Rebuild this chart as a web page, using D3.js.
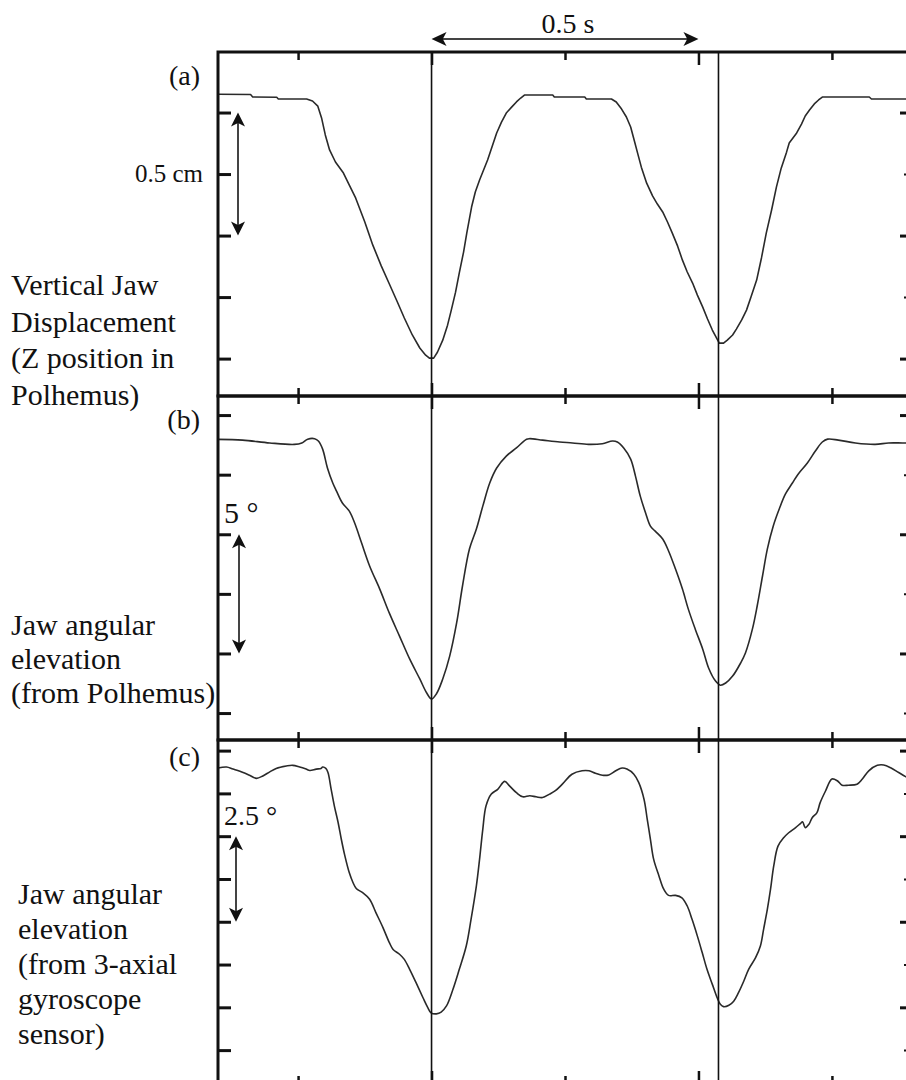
<!DOCTYPE html>
<html>
<head>
<meta charset="utf-8">
<script src="https://cdn.jsdelivr.net/npm/d3@7"></script>
<style>
  body { margin: 0; background: #fff; }
  svg { display: block; }
</style>
</head>
<body>
<svg width="906" height="1080"></svg>
<script>
// time axis (s)
var timeDomain = [0.1, 1.4];
var markerTimes = [0.5, 1.0375];      // the two minima marked with vertical lines
var majorTimeTicks = [0.5, 1.0];
var minorTimeTicks = [0.25, 0.75, 1.25];

// (a) vertical jaw displacement, cm
var timeA = [0.1, 0.161, 0.165, 0.210, 0.213, 0.266, 0.277, 0.287, 0.294, 0.301, 0.309, 0.320, 0.335, 0.346, 0.358, 0.375, 0.390, 0.406, 0.421, 0.436, 0.449, 0.464, 0.478, 0.489, 0.496, 0.504, 0.511, 0.521, 0.530, 0.537, 0.545, 0.552, 0.560, 0.566, 0.575, 0.582, 0.590, 0.605, 0.622, 0.631, 0.640, 0.650, 0.659, 0.667, 0.674, 0.727, 0.730, 0.787, 0.790, 0.837, 0.846, 0.856, 0.865, 0.873, 0.880, 0.886, 0.893, 0.903, 0.914, 0.923, 0.933, 0.942, 0.951, 0.961, 0.970, 0.979, 0.989, 0.998, 1.008, 1.017, 1.026, 1.034, 1.039, 1.047, 1.054, 1.064, 1.071, 1.081, 1.090, 1.099, 1.109, 1.118, 1.127, 1.137, 1.146, 1.155, 1.165, 1.170, 1.184, 1.193, 1.200, 1.208, 1.217, 1.225, 1.232, 1.320, 1.324, 1.4];
var dispA = [1.074, 1.073, 1.063, 1.062, 1.055, 1.055, 1.047, 1.026, 0.978, 0.909, 0.848, 0.799, 0.754, 0.705, 0.652, 0.555, 0.461, 0.376, 0.303, 0.230, 0.165, 0.096, 0.043, 0.014, 0.002, 0.002, 0.026, 0.075, 0.136, 0.197, 0.270, 0.348, 0.433, 0.510, 0.616, 0.677, 0.726, 0.807, 0.917, 0.961, 0.998, 1.022, 1.043, 1.059, 1.071, 1.071, 1.063, 1.063, 1.055, 1.055, 1.043, 1.014, 0.982, 0.941, 0.884, 0.835, 0.778, 0.713, 0.661, 0.628, 0.596, 0.555, 0.510, 0.457, 0.400, 0.352, 0.307, 0.258, 0.209, 0.161, 0.116, 0.083, 0.063, 0.063, 0.075, 0.096, 0.120, 0.157, 0.197, 0.254, 0.319, 0.409, 0.510, 0.604, 0.697, 0.774, 0.839, 0.876, 0.917, 0.953, 0.986, 1.010, 1.035, 1.051, 1.063, 1.063, 1.055, 1.055];
var domainA = [-0.152, 1.246];
var ticksA = [0, 0.25, 0.5, 0.75, 1.0];
var rightLongA = [0, 0.5, 1.0];
var rightShortA = [0.25, 0.75];
var barA = [0.5, 1.0];

// (b) jaw angular elevation from Polhemus, degrees
var timeB = [0.1, 0.146, 0.197, 0.243, 0.257, 0.268, 0.281, 0.288, 0.296, 0.305, 0.315, 0.322, 0.333, 0.346, 0.356, 0.369, 0.384, 0.403, 0.421, 0.440, 0.459, 0.478, 0.491, 0.500, 0.509, 0.521, 0.534, 0.547, 0.558, 0.571, 0.584, 0.596, 0.609, 0.622, 0.640, 0.659, 0.678, 0.684, 0.708, 0.740, 0.764, 0.794, 0.820, 0.839, 0.848, 0.860, 0.873, 0.882, 0.891, 0.901, 0.910, 0.919, 0.933, 0.944, 0.957, 0.970, 0.981, 0.994, 1.008, 1.019, 1.032, 1.041, 1.051, 1.064, 1.079, 1.088, 1.101, 1.110, 1.120, 1.129, 1.140, 1.152, 1.163, 1.176, 1.187, 1.204, 1.219, 1.232, 1.242, 1.262, 1.294, 1.331, 1.356, 1.382, 1.4];
var angleB = [11.48, 11.45, 11.33, 11.27, 11.33, 11.49, 11.51, 11.41, 11.07, 10.28, 9.65, 9.31, 8.81, 8.47, 7.97, 7.13, 6.17, 5.20, 4.19, 3.23, 2.27, 1.43, 0.84, 0.59, 0.80, 1.43, 2.39, 3.78, 5.33, 6.88, 7.72, 8.68, 9.65, 10.28, 10.78, 11.12, 11.49, 11.51, 11.45, 11.37, 11.33, 11.27, 11.30, 11.41, 11.37, 11.12, 10.65, 9.94, 9.10, 8.39, 7.84, 7.63, 7.30, 6.80, 6.04, 5.20, 4.36, 3.52, 2.68, 1.89, 1.34, 1.17, 1.26, 1.55, 2.10, 2.52, 3.52, 4.49, 5.75, 6.88, 7.84, 8.60, 9.19, 9.65, 10.03, 10.49, 10.99, 11.37, 11.49, 11.45, 11.33, 11.27, 11.33, 11.33, 11.33];
var domainB = [-1.13, 13.3];
var ticksB = [0, 2.5, 5, 7.5, 10, 12.5];
var rightLongB = [2.5, 7.5, 12.5];
var rightShortB = [0, 5, 10];
var barB = [2.5, 7.5];

// (c) jaw angular elevation from gyroscope, degrees
var timeC = [0.1, 0.116, 0.128, 0.147, 0.159, 0.172, 0.184, 0.197, 0.209, 0.228, 0.240, 0.253, 0.265, 0.272, 0.284, 0.293, 0.296, 0.302, 0.306, 0.312, 0.318, 0.325, 0.331, 0.337, 0.346, 0.353, 0.359, 0.371, 0.384, 0.396, 0.409, 0.421, 0.428, 0.440, 0.449, 0.459, 0.471, 0.484, 0.493, 0.499, 0.509, 0.518, 0.528, 0.540, 0.552, 0.565, 0.574, 0.584, 0.590, 0.596, 0.602, 0.612, 0.624, 0.637, 0.646, 0.659, 0.671, 0.684, 0.696, 0.708, 0.721, 0.732, 0.745, 0.763, 0.782, 0.795, 0.807, 0.820, 0.832, 0.845, 0.857, 0.866, 0.879, 0.888, 0.898, 0.904, 0.910, 0.916, 0.926, 0.935, 0.944, 0.957, 0.969, 0.979, 0.988, 0.998, 1.007, 1.016, 1.026, 1.035, 1.041, 1.047, 1.057, 1.066, 1.075, 1.085, 1.094, 1.107, 1.116, 1.122, 1.129, 1.135, 1.141, 1.149, 1.160, 1.169, 1.182, 1.191, 1.195, 1.200, 1.207, 1.213, 1.222, 1.228, 1.238, 1.250, 1.260, 1.269, 1.281, 1.297, 1.307, 1.319, 1.335, 1.347, 1.360, 1.375, 1.388, 1.4];
var angleC = [8.24, 8.27, 8.21, 8.11, 8.03, 7.94, 8.01, 8.13, 8.23, 8.30, 8.32, 8.27, 8.21, 8.17, 8.21, 8.23, 8.27, 8.23, 8.11, 7.62, 7.13, 6.65, 6.16, 5.72, 5.18, 4.89, 4.72, 4.60, 4.41, 4.01, 3.58, 3.14, 2.94, 2.80, 2.65, 2.36, 1.97, 1.53, 1.24, 1.09, 1.06, 1.11, 1.29, 1.77, 2.36, 3.04, 3.82, 4.80, 5.58, 6.45, 7.13, 7.48, 7.62, 7.85, 7.72, 7.52, 7.40, 7.43, 7.40, 7.38, 7.48, 7.58, 7.77, 8.06, 8.16, 8.16, 8.09, 8.03, 8.04, 8.16, 8.24, 8.21, 8.06, 7.82, 7.33, 6.75, 6.16, 5.58, 5.09, 4.70, 4.52, 4.52, 4.45, 4.21, 3.82, 3.33, 2.85, 2.36, 1.92, 1.53, 1.34, 1.27, 1.31, 1.43, 1.68, 2.02, 2.36, 2.70, 3.04, 3.53, 4.11, 4.70, 5.38, 5.96, 6.21, 6.35, 6.50, 6.62, 6.67, 6.50, 6.60, 6.79, 6.94, 7.23, 7.57, 7.92, 7.87, 7.74, 7.74, 7.77, 7.92, 8.16, 8.32, 8.33, 8.25, 8.11, 7.99, 7.89];
var domainC = [-0.99, 9.06];
var ticksC = [0, 1.25, 2.5, 3.75, 5, 6.25, 7.5, 8.75];
var rightLongC = [1.25, 3.75, 6.25, 8.75];
var rightShortC = [0, 2.5, 5, 7.5];
var barC = [3.75, 6.25];

var svg = d3.select("svg");
var serif = "Liberation Serif";

var margin = {top: 52, left: 218};
var plotWidth = 694;
var panelHeight = 344;

var timeScale = d3.scaleLinear()
    .domain(timeDomain)
    .range([margin.left, margin.left + plotWidth]);

var panels = [
    {id: "a", time: timeA, value: dispA, domain: domainA, ticks: ticksA, rightLong: rightLongA, rightShort: rightShortA,
     bar: barA, barX: 20, curve: d3.curveLinear,
     tag: "(a)", tagY: 33, barText: "0.5 cm",
     lines: ["Vertical Jaw", "Displacement", "(Z position in", "Polhemus)"], lineX: 11, lineY: 243, lineGap: 36.5},
    {id: "b", time: timeB, value: angleB, domain: domainB, ticks: ticksB, rightLong: rightLongB, rightShort: rightShortB,
     bar: barB, barX: 21, curve: d3.curveCatmullRom,
     tag: "(b)", tagY: 33, barText: "5 \u00b0",
     lines: ["Jaw angular", "elevation", "(from Polhemus)"], lineX: 11, lineY: 239, lineGap: 34},
    {id: "c", time: timeC, value: angleC, domain: domainC, ticks: ticksC, rightLong: rightLongC, rightShort: rightShortC,
     bar: barC, barX: 18, curve: d3.curveCatmullRom,
     tag: "(c)", tagY: 26, barText: "2.5 \u00b0",
     lines: ["Jaw angular", "elevation", "(from 3-axial", "gyroscope", "sensor)"], lineX: 18, lineY: 164, lineGap: 35}
];

function drawDoubleArrow(g, x1, y1, x2, y2, headLen, headWidth) {
    var dx = x2 - x1, dy = y2 - y1;
    var len = Math.sqrt(dx * dx + dy * dy);
    var ux = dx / len, uy = dy / len;
    var px = -uy, py = ux;
    g.append("line")
        .attr("x1", x1 + ux * headLen * 0.7).attr("y1", y1 + uy * headLen * 0.7)
        .attr("x2", x2 - ux * headLen * 0.7).attr("y2", y2 - uy * headLen * 0.7)
        .attr("stroke", "#444")
        .attr("stroke-width", 2);
    [[x1, y1, 1], [x2, y2, -1]].forEach(function(e) {
        var tx = e[0], ty = e[1], s = e[2];
        var bx = tx + s * ux * headLen, by = ty + s * uy * headLen;
        var mx = tx + s * ux * headLen * 0.75, my = ty + s * uy * headLen * 0.75;
        g.append("path")
            .attr("d", "M" + tx + "," + ty +
                "L" + (bx + px * headWidth / 2) + "," + (by + py * headWidth / 2) +
                "L" + mx + "," + my +
                "L" + (bx - px * headWidth / 2) + "," + (by - py * headWidth / 2) + "Z")
            .attr("fill", "#111");
    });
}

function styleAxis(g, width) {
    g.select(".domain").remove();
    g.selectAll(".tick line").attr("stroke", "#111").attr("stroke-width", width);
}

function addText(g, x, y, size, str, anchor) {
    return g.append("text")
        .attr("x", x)
        .attr("y", y)
        .attr("text-anchor", anchor || "start")
        .attr("font-family", serif)
        .attr("font-size", size)
        .attr("fill", "#111")
        .text(str);
}

panels.forEach(function(p, i) {
    var top = margin.top + i * panelHeight;
    var bottom = top + panelHeight;
    var right = margin.left + plotWidth;

    var yScale = d3.scaleLinear()
        .domain(p.domain)
        .range([bottom, top]);

    var plot = svg.append("g").attr("id", "panel-" + p.id);

    // trace
    var line = d3.line()
        .x(function(d) { return timeScale(d[0]); })
        .y(function(d) { return yScale(d[1]); })
        .curve(p.curve);

    plot.append("path")
        .datum(d3.zip(p.time, p.value))
        .attr("fill", "none")
        .attr("stroke", "#2a2a2a")
        .attr("stroke-width", 1.6)
        .attr("stroke-linejoin", "round")
        .attr("d", line);

    // ticks, all pointing inward
    var leftAxis = d3.axisLeft(yScale).tickValues(p.ticks).tickSize(-13).tickFormat("");
    styleAxis(plot.append("g").attr("transform", "translate(" + margin.left + ",0)").call(leftAxis), 3);

    var rightLong = d3.axisRight(yScale).tickValues(p.rightLong).tickSize(-12).tickFormat("");
    styleAxis(plot.append("g").attr("transform", "translate(" + right + ",0)").call(rightLong), 3);
    var rightShort = d3.axisRight(yScale).tickValues(p.rightShort).tickSize(-8).tickFormat("");
    styleAxis(plot.append("g").attr("transform", "translate(" + right + ",0)").call(rightShort), 2);

    var topMajor = d3.axisTop(timeScale).tickValues(majorTimeTicks).tickSize(-13).tickFormat("");
    var topMinor = d3.axisTop(timeScale).tickValues(minorTimeTicks).tickSize(-8).tickFormat("");
    styleAxis(plot.append("g").attr("transform", "translate(0," + top + ")").call(topMajor), 2.5);
    styleAxis(plot.append("g").attr("transform", "translate(0," + top + ")").call(topMinor), 2.5);

    var bottomMajor = d3.axisBottom(timeScale).tickValues(majorTimeTicks).tickSize(-13).tickFormat("");
    var bottomMinor = d3.axisBottom(timeScale).tickValues(minorTimeTicks).tickSize(-8).tickFormat("");
    styleAxis(plot.append("g").attr("transform", "translate(0," + bottom + ")").call(bottomMajor), 2.5);
    styleAxis(plot.append("g").attr("transform", "translate(0," + bottom + ")").call(bottomMinor), 2.5);

    // frame
    plot.append("rect")
        .attr("x", margin.left)
        .attr("y", top)
        .attr("width", plotWidth)
        .attr("height", panelHeight)
        .attr("fill", "none")
        .attr("stroke", "#111")
        .attr("stroke-width", 3);

    // scale bar
    var bx = margin.left + p.barX;
    drawDoubleArrow(plot, bx, yScale(p.bar[1]), bx, yScale(p.bar[0]), 14, 14);

    // panel tag
    addText(plot, 200, top + p.tagY, 28, p.tag, "end");

    // left description
    var desc = addText(plot, p.lineX, top + p.lineY, 30, null);
    p.lines.forEach(function(s, k) {
        desc.append("tspan")
            .attr("x", p.lineX)
            .attr("y", top + p.lineY + k * p.lineGap)
            .text(s);
    });

    p.yScale = yScale;
});

// scale bar labels
addText(svg, 203, panels[0].yScale(0.75) + 8, 25, panels[0].barText, "end");
addText(svg, 224, panels[1].yScale(barB[1]) - 11, 30, panels[1].barText);
addText(svg, 224, panels[2].yScale(barC[1]) - 11, 28, panels[2].barText);

// vertical markers through all panels
var figTop = margin.top, figBottom = margin.top + 3 * panelHeight;
svg.append("g").selectAll("line")
    .data(markerTimes)
    .enter().append("line")
    .attr("x1", function(d) { return timeScale(d); })
    .attr("x2", function(d) { return timeScale(d); })
    .attr("y1", figTop)
    .attr("y2", figBottom)
    .attr("stroke", "#111")
    .attr("stroke-width", 1.6);

// time scale bar on top
var timeBar = svg.append("g");
drawDoubleArrow(timeBar, timeScale(0.5), 39, timeScale(1.0), 39, 15, 14);
addText(timeBar, (timeScale(0.5) + timeScale(1.0)) / 2 + 3, 33, 28, "0.5 s", "middle");
</script>
</body>
</html>
